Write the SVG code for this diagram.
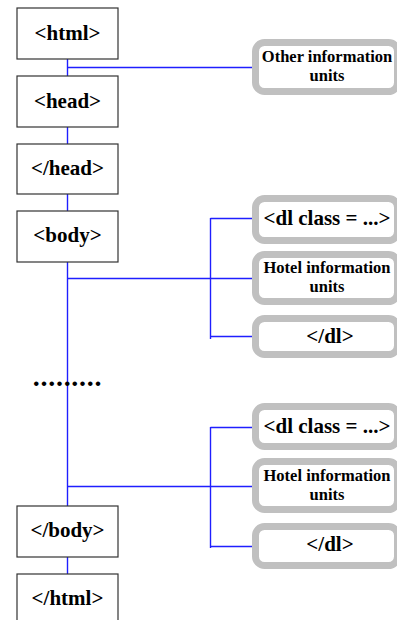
<svg xmlns="http://www.w3.org/2000/svg" width="397" height="620" viewBox="0 0 397 620">
<style>
.tag rect{fill:#fff;stroke:#333;stroke-width:1.2}
.unit rect{fill:#fff;stroke:#c0c0c0;stroke-width:7}
text{font-family:"Liberation Serif","Times New Roman",serif;font-weight:bold;fill:#000;text-anchor:middle}
.big{font-size:21px}
.small{font-size:16.5px}
#connectors line{stroke:#1f1fff;stroke-width:1.4}
</style>
<rect width="397" height="620" fill="#fff"/>
<g id="connectors">
<line x1="67.5" y1="59" x2="67.5" y2="76"/>
<line x1="67.5" y1="127" x2="67.5" y2="144"/>
<line x1="67.5" y1="194" x2="67.5" y2="211"/>
<line x1="67.5" y1="262" x2="67.5" y2="506"/>
<line x1="67.5" y1="557" x2="67.5" y2="574"/>
<line x1="67.5" y1="67.5" x2="255" y2="67.5"/>
<line x1="67.5" y1="278.5" x2="257" y2="278.5"/>
<line x1="210.5" y1="218" x2="210.5" y2="339"/>
<line x1="210.5" y1="218.5" x2="255" y2="218.5"/>
<line x1="210.5" y1="336.5" x2="256" y2="336.5"/>
<line x1="67.5" y1="486.5" x2="257" y2="486.5"/>
<line x1="210.5" y1="427" x2="210.5" y2="548"/>
<line x1="210.5" y1="427.5" x2="255" y2="427.5"/>
<line x1="210.5" y1="546.5" x2="256" y2="546.5"/>
</g>
<g id="html" class="tag"><rect x="17" y="8" width="101" height="51"/><text class="big" x="67.5" y="40">&lt;html&gt;</text></g>
<g id="head" class="tag"><rect x="17" y="76" width="101" height="51"/><text class="big" x="67.5" y="108">&lt;head&gt;</text></g>
<g id="head-end" class="tag"><rect x="17" y="144" width="101" height="50"/><text class="big" x="67.5" y="175">&lt;/head&gt;</text></g>
<g id="body" class="tag"><rect x="17" y="211" width="101" height="51"/><text class="big" x="67.5" y="242">&lt;body&gt;</text></g>
<g id="dots"><text x="67.5" y="386" font-size="28" letter-spacing="0.7">.........</text></g>
<g id="body-end" class="tag"><rect x="17" y="506" width="101" height="51"/><text class="big" x="67.5" y="537">&lt;/body&gt;</text></g>
<g id="html-end" class="tag"><rect x="17" y="574" width="101" height="51"/><text class="big" x="67.5" y="605">&lt;/html&gt;</text></g>
<g id="other-units" class="unit"><rect x="255.5" y="42.5" width="142" height="49" rx="9"/><text class="small" x="327" y="62">Other information</text><text class="small" x="327" y="81">units</text></g>
<g id="dl1" class="unit"><rect x="255.5" y="198.5" width="142" height="42" rx="9"/><text class="big" x="327" y="225">&lt;dl class = ...&gt;</text></g>
<g id="hotel1" class="unit"><rect x="255.5" y="254.5" width="142" height="47" rx="9"/><text class="small" x="327" y="273">Hotel information</text><text class="small" x="327" y="292">units</text></g>
<g id="dl1-end" class="unit"><rect x="255.5" y="318.5" width="142" height="36" rx="9"/><text class="big" x="330" y="343">&lt;/dl&gt;</text></g>
<g id="dl2" class="unit"><rect x="255.5" y="406.5" width="142" height="40" rx="9"/><text class="big" x="327" y="433">&lt;dl class = ...&gt;</text></g>
<g id="hotel2" class="unit"><rect x="255.5" y="461.5" width="142" height="48" rx="9"/><text class="small" x="327" y="481">Hotel information</text><text class="small" x="327" y="500">units</text></g>
<g id="dl2-end" class="unit"><rect x="255.5" y="526.5" width="142" height="39" rx="9"/><text class="big" x="330" y="551">&lt;/dl&gt;</text></g>
</svg>
